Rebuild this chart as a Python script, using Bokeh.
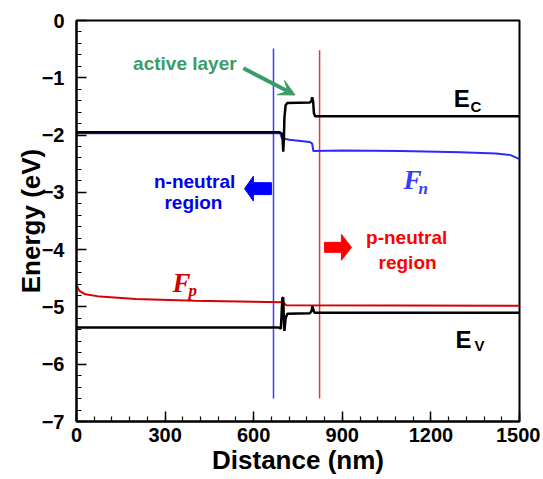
from bokeh.plotting import figure
from bokeh.models import Range1d, FixedTicker, Arrow, VeeHead
from bokeh.core.properties import value
from bokeh.embed import file_html
from bokeh.resources import INLINE

# ---- data ----
ec_x = [0, 688, 697, 700, 702, 704, 708, 714, 790, 795, 798, 801, 804, 808, 1500]
ec_y = [-1.95, -1.95, -1.98, -2.29, -2.1, -1.7, -1.48, -1.44, -1.43, -1.41, -1.34, -1.40, -1.62, -1.67, -1.67]

fn_x = [0, 690, 695, 720, 790, 798, 802, 900, 1100, 1300, 1420, 1470, 1500]
fn_y = [-1.97, -1.97, -2.05, -2.08, -2.12, -2.15, -2.28, -2.27, -2.28, -2.30, -2.32, -2.35, -2.42]

ev_x = [0, 685, 692, 697, 700, 702, 704, 708, 714, 790, 796, 799, 802, 806, 1500]
ev_y = [-5.36, -5.36, -5.38, -4.85, -4.83, -5.2, -5.42, -5.2, -5.12, -5.11, -5.07, -4.99, -5.05, -5.10, -5.10]

fp_x = [0, 10, 30, 80, 200, 400, 600, 700, 710, 1500]
fp_y = [-4.62, -4.72, -4.78, -4.82, -4.86, -4.89, -4.91, -4.92, -4.97, -4.98]

n_edge_x = [667, 667]
n_edge_y = [-0.49, -6.60]
p_edge_x = [823, 823]
p_edge_y = [-0.52, -6.60]

x_ticks = [0, 300, 600, 900, 1200, 1500]
y_ticks = [0, -1, -2, -3, -4, -5, -6, -7]

# arrow shapes (data coords)
blue_arrow_x = [569, 599, 599, 660, 660, 599, 599]
blue_arrow_y = [-2.935, -2.718, -2.831, -2.831, -3.039, -3.039, -3.152]
red_arrow_x = [931, 897, 897, 840, 840, 897, 897]
red_arrow_y = [-3.96, -3.734, -3.873, -3.873, -4.047, -4.047, -4.186]

FONT = "Liberation Sans"

p = figure(width=540, height=477, output_backend="svg", toolbar_location=None,
           x_range=Range1d(0, 1500), y_range=Range1d(-7, 0),
           min_border_left=76, min_border_right=21, min_border_top=20, min_border_bottom=54)
p.grid.visible = False
p.outline_line_color = "black"
p.outline_line_width = 2
p.background_fill_color = "white"

for ax in (p.xaxis[0], p.yaxis[0]):
    ax.axis_line_width = 2
    ax.major_tick_in = 10
    ax.major_tick_out = 0
    ax.minor_tick_in = 5
    ax.minor_tick_out = 0
    ax.major_tick_line_width = 1.5
    ax.minor_tick_line_width = 1.2
    ax.major_label_text_font = FONT
    ax.major_label_text_font_style = "bold"
    ax.major_label_text_font_size = "20px"
    ax.major_label_text_color = "black"
    ax.axis_label_text_font = FONT
    ax.axis_label_text_font_style = "bold"
    ax.axis_label_text_font_size = "26px"
    ax.axis_label_text_color = "black"

p.xaxis.ticker = FixedTicker(ticks=x_ticks, minor_ticks=[i * 60 for i in range(26)])
p.yaxis.ticker = FixedTicker(ticks=y_ticks, minor_ticks=[-i * 0.2 for i in range(36)])
p.xaxis.axis_label = "Distance (nm)"
p.yaxis.axis_label = "Energy (eV)"
p.xaxis.major_label_standoff = 6
p.yaxis.major_label_standoff = 12
p.xaxis.axis_label_standoff = 0
p.yaxis.axis_label_standoff = -7

# vertical region edges
p.line(n_edge_x, n_edge_y, line_color="#3c3cff", line_width=1.5)
p.line(p_edge_x, p_edge_y, line_color="#e03a3a", line_width=1.5)

# bands
p.line(fp_x, fp_y, line_color="#d80000", line_width=2)
p.line(fn_x, fn_y, line_color="#2a2aff", line_width=2)
p.line(ec_x, ec_y, line_color="black", line_width=2.5)
p.line(ev_x, ev_y, line_color="black", line_width=2.5)

# arrows
p.patch(blue_arrow_x, blue_arrow_y, fill_color="#0000ff", line_color="#0000ff")
p.patch(red_arrow_x, red_arrow_y, fill_color="#ff0000", line_color="#ff0000")
p.add_layout(Arrow(x_start=565, y_start=-0.833, x_end=740, y_end=-1.30,
                   line_color="#3a9b68", line_width=4,
                   end=VeeHead(size=16, fill_color="#3a9b68", line_color="#3a9b68")))

def label(x, y, t, color, size, font=FONT, style="bold", align="center"):
    p.text([x], [y], text=[t], text_color=color, text_font=value(font),
           text_font_style=style, text_font_size=size,
           text_align=align, text_baseline="alphabetic")

label(367, -0.747, "active layer", "#3a9b68", "19px")
label(400, -2.81, "n-neutral", "#0000ee", "19px")
label(396, -3.18, "region", "#0000ee", "19px")
label(1118, -3.79, "p-neutral", "#ff0000", "19px")
label(1121, -4.22, "region", "#ff0000", "19px")
label(1277, -1.355, "E", "black", "24px", align="left")
label(1334, -1.494, "C", "black", "15px", align="left")
label(1283, -5.56, "E", "black", "24px", align="left")
label(1348, -5.68, "V", "black", "15px", align="left")
label(1107, -2.78, "F", "#3a3aff", "27px", font="Liberation Serif", style="bold italic", align="left")
label(1158, -2.935, "n", "#3a3aff", "17px", font="Liberation Serif", style="bold italic", align="left")
label(325, -4.586, "F", "#d00000", "27px", font="Liberation Serif", style="bold italic", align="left")
label(379, -4.71, "p", "#d00000", "17px", font="Liberation Serif", style="bold italic", align="left")

open("out.html", "w").write(file_html(p, INLINE))
